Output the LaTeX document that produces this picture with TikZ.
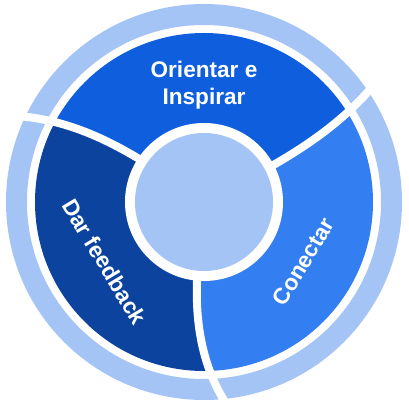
\documentclass[tikz,border=0pt]{standalone}
\usepackage{fontspec}
\setmainfont{Liberation Sans}
\usepackage{tikz}
\definecolor{lightring}{RGB}{164,196,246}
\definecolor{topblue}{RGB}{14,94,222}
\definecolor{rightblue}{RGB}{51,126,240}
\definecolor{darkblue}{RGB}{11,67,158}

\begin{document}
\begin{tikzpicture}[x=1pt, y=1pt,
    declare function={sw(\r)=0.5*(\r-80)/116+0.5*((\r-80)/116)*((\r-80)/116);},
    segtext/.style={text=white, font=\fontsize{22.6}{27}\selectfont\bfseries, align=center},
    divider/.style={draw=white, line width=8pt}
  ]
    \useasboundingbox (-204,-207) rectangle (204,202);

    % outer ring
    \fill[lightring, even odd rule] (0,0) circle (198) (0,0) circle (177);

    % the three segments
    \begin{scope}
      \clip (0,0) circle (169);
      \fill[topblue] plot[domain=0:206, samples=40] ({28.1+5.7*sw(\x)}:\x)
        arc[start angle={28.1+5.7*sw(206)}, end angle={146.5+7.8*sw(206)}, radius=206]
        -- plot[domain=206:0, samples=40] ({146.5+7.8*sw(\x)}:\x) -- cycle;
      \fill[darkblue] plot[domain=0:206, samples=40] ({146.5+7.8*sw(\x)}:\x)
        arc[start angle={146.5+7.8*sw(206)}, end angle={264.9+10.4*sw(206)}, radius=206]
        -- plot[domain=206:0, samples=40] ({264.9+10.4*sw(\x)}:\x) -- cycle;
      \fill[rightblue] plot[domain=0:206, samples=40] ({264.9+10.4*sw(\x)}:\x)
        arc[start angle={264.9+10.4*sw(206)}, end angle={388.1+5.7*sw(206)}, radius=206]
        -- plot[domain=206:0, samples=40] ({388.1+5.7*sw(\x)}:\x) -- cycle;
    \end{scope}

    % white dividers, running through the ring
    \foreach \b/\a in {28.1/5.7, 146.5/7.8, 264.9/10.4}
      \draw[divider] plot[domain=72:206, samples=30] ({\b+\a*sw(\x)}:\x);

    % centre
    \fill[white] (0,0) circle (79);
    \fill[lightring] (0,0) circle (69);

    \node[segtext] (orient) at (0,117) {Orientar e\\Inspirar};
    \node[segtext, rotate=-59] (feedback) at (211:116) {Dar feedback};
    \node[segtext, rotate=59] (conectar) at (329:116) {Conectar};
\end{tikzpicture}
\end{document}
